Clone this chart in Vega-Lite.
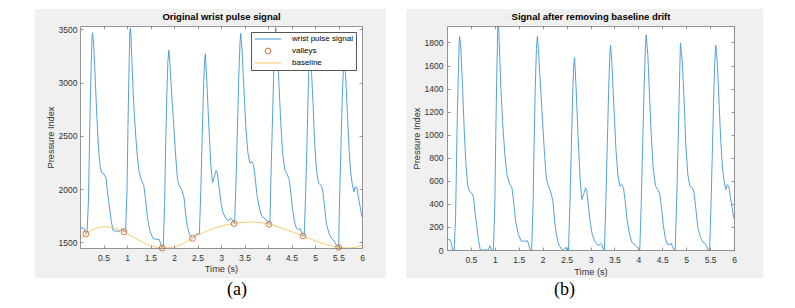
{
  "$schema": "https://vega.github.io/schema/vega-lite/v6.json",
  "padding": {"left": 35, "top": 8, "right": 0, "bottom": 0},
  "background": "white",
  "spacing": 19,
  "resolve": {"scale": {"color": "independent"}, "legend": {"color": "independent"}},
  "config": {
    "view": {"stroke": null},
    "font": "Liberation Sans",
    "axis": {
      "grid": false, "domainColor": "#7a7a7a", "domainWidth": 0.8, "tickColor": "#7a7a7a", "tickWidth": 0.8, "tickSize": -3,
      "labelFont": "Liberation Sans", "labelFontSize": 8.5, "labelColor": "#303030",
      "titleFont": "Liberation Sans", "titleFontSize": 9.2, "titleFontWeight": "normal", "titleColor": "#303030",
      "labelFlush": false, "labelOverlap": false
    }
  },
  "datasets": {
    "sig": [
      {"t":0,"v":1632},{"t":0.05,"v":1636},{"t":0.09,"v":1628},{"t":0.115,"v":1590},{"t":0.127,"v":1580},{"t":0.15,"v":1590},
      {"t":0.18,"v":1892},{"t":0.2,"v":2398},{"t":0.215,"v":2753},{"t":0.235,"v":3110},{"t":0.255,"v":3416},{"t":0.265,"v":3468},
      {"t":0.28,"v":3409},{"t":0.29,"v":3363},{"t":0.326,"v":3022},{"t":0.361,"v":2654},{"t":0.396,"v":2372},{"t":0.43,"v":2204},
      {"t":0.466,"v":2151},{"t":0.515,"v":2140},{"t":0.556,"v":2095},{"t":0.59,"v":1950},{"t":0.626,"v":1833},{"t":0.66,"v":1716},
      {"t":0.7,"v":1615},{"t":0.75,"v":1605},{"t":0.85,"v":1605},{"t":0.9,"v":1630},{"t":0.936,"v":1598},{"t":0.97,"v":1602},
      {"t":1.0,"v":1980},{"t":1.02,"v":2575},{"t":1.04,"v":3070},{"t":1.06,"v":3466},{"t":1.07,"v":3508},{"t":1.085,"v":3440},
      {"t":1.127,"v":2948},{"t":1.162,"v":2653},{"t":1.21,"v":2355},{"t":1.253,"v":2172},{"t":1.3,"v":2091},{"t":1.357,"v":2035},
      {"t":1.392,"v":1913},{"t":1.434,"v":1732},{"t":1.49,"v":1605},{"t":1.546,"v":1540},{"t":1.615,"v":1528},{"t":1.684,"v":1527},
      {"t":1.713,"v":1495},{"t":1.74,"v":1452},{"t":1.749,"v":1447},{"t":1.77,"v":1452},{"t":1.8,"v":1847},{"t":1.82,"v":2347},
      {"t":1.845,"v":2847},{"t":1.87,"v":3197},{"t":1.89,"v":3303},{"t":1.91,"v":3200},{"t":1.933,"v":3021},{"t":1.97,"v":2765},
      {"t":2.04,"v":2283},{"t":2.075,"v":2090},{"t":2.11,"v":2039},{"t":2.165,"v":1993},{"t":2.214,"v":1917},{"t":2.25,"v":1752},
      {"t":2.284,"v":1647},{"t":2.33,"v":1573},{"t":2.394,"v":1538},{"t":2.42,"v":1548},{"t":2.49,"v":1585},{"t":2.51,"v":1568},
      {"t":2.54,"v":1578},{"t":2.57,"v":1979},{"t":2.6,"v":2485},{"t":2.63,"v":2991},{"t":2.655,"v":3236},{"t":2.667,"v":3269},
      {"t":2.7,"v":3003},{"t":2.736,"v":2638},{"t":2.785,"v":2216},{"t":2.82,"v":2063},{"t":2.855,"v":2111},{"t":2.896,"v":2174},
      {"t":2.924,"v":2149},{"t":2.959,"v":2011},{"t":3.0,"v":1874},{"t":3.035,"v":1791},{"t":3.084,"v":1738},{"t":3.154,"v":1701},
      {"t":3.21,"v":1727},{"t":3.245,"v":1710},{"t":3.279,"v":1676},{"t":3.29,"v":1680},{"t":3.32,"v":2078},{"t":3.35,"v":2580},
      {"t":3.38,"v":3081},{"t":3.405,"v":3383},{"t":3.42,"v":3461},{"t":3.446,"v":3313},{"t":3.488,"v":2942},{"t":3.53,"v":2571},
      {"t":3.572,"v":2342},{"t":3.614,"v":2243},{"t":3.655,"v":2257},{"t":3.69,"v":2229},{"t":3.725,"v":2114},{"t":3.767,"v":1940},
      {"t":3.816,"v":1823},{"t":3.865,"v":1748},{"t":3.955,"v":1713},{"t":4.0,"v":1690},{"t":4.022,"v":1670},{"t":4.04,"v":1675},
      {"t":4.06,"v":2065},{"t":4.09,"v":2561},{"t":4.12,"v":3057},{"t":4.15,"v":3433},{"t":4.164,"v":3517},{"t":4.2,"v":3331},
      {"t":4.234,"v":2983},{"t":4.27,"v":2634},{"t":4.31,"v":2341},{"t":4.36,"v":2175},{"t":4.41,"v":2138},{"t":4.45,"v":2089},
      {"t":4.485,"v":1969},{"t":4.52,"v":1821},{"t":4.56,"v":1699},{"t":4.602,"v":1635},{"t":4.65,"v":1621},{"t":4.686,"v":1627},
      {"t":4.72,"v":1588},{"t":4.745,"v":1560},{"t":4.77,"v":1562},{"t":4.8,"v":1950},{"t":4.83,"v":2445},{"t":4.86,"v":2990},
      {"t":4.88,"v":3330},{"t":4.92,"v":3157},{"t":4.958,"v":2806},{"t":4.993,"v":2427},{"t":5.035,"v":2163},{"t":5.076,"v":2057},
      {"t":5.125,"v":2035},{"t":5.16,"v":2001},{"t":5.2,"v":1852},{"t":5.243,"v":1674},{"t":5.3,"v":1582},{"t":5.355,"v":1534},
      {"t":5.397,"v":1520},{"t":5.425,"v":1498},{"t":5.46,"v":1470},{"t":5.49,"v":1455},{"t":5.503,"v":1453},{"t":5.52,"v":1852},
      {"t":5.55,"v":2351},{"t":5.58,"v":2850},{"t":5.605,"v":3149},{"t":5.62,"v":3225},{"t":5.654,"v":3046},{"t":5.69,"v":2700},
      {"t":5.724,"v":2384},{"t":5.759,"v":2154},{"t":5.794,"v":2043},{"t":5.829,"v":1976},{"t":5.857,"v":2022},{"t":5.891,"v":2013},
      {"t":5.926,"v":1917},{"t":5.961,"v":1833},{"t":6.0,"v":1738}
    ],
    "base": [
      {"t":0,"v":1528},{"t":0.127,"v":1578},{"t":0.25,"v":1615},{"t":0.375,"v":1636},{"t":0.5,"v":1647},{"t":0.625,"v":1643},
      {"t":0.75,"v":1630},{"t":0.85,"v":1614},{"t":0.936,"v":1598},{"t":1.0,"v":1582},{"t":1.125,"v":1552},{"t":1.25,"v":1522},
      {"t":1.375,"v":1493},{"t":1.5,"v":1470},{"t":1.625,"v":1455},{"t":1.749,"v":1447},{"t":1.85,"v":1447},{"t":2.0,"v":1455},
      {"t":2.125,"v":1475},{"t":2.25,"v":1502},{"t":2.394,"v":1538},{"t":2.5,"v":1565},{"t":2.625,"v":1592},{"t":2.75,"v":1615},
      {"t":2.875,"v":1635},{"t":3.0,"v":1650},{"t":3.125,"v":1665},{"t":3.279,"v":1676},{"t":3.375,"v":1683},{"t":3.5,"v":1689},
      {"t":3.6,"v":1691},{"t":3.7,"v":1691},{"t":3.85,"v":1685},{"t":4.022,"v":1670},{"t":4.125,"v":1658},{"t":4.25,"v":1640},
      {"t":4.375,"v":1621},{"t":4.5,"v":1600},{"t":4.625,"v":1580},{"t":4.745,"v":1560},{"t":4.875,"v":1537},{"t":5.0,"v":1515},
      {"t":5.125,"v":1495},{"t":5.25,"v":1478},{"t":5.375,"v":1464},{"t":5.503,"v":1453},{"t":5.625,"v":1449},{"t":5.75,"v":1448},
      {"t":5.875,"v":1455},{"t":6.0,"v":1468}
    ],
    "valleys": [
      {"t":0.124,"v":1580},{"t":0.936,"v":1598},{"t":1.749,"v":1447},{"t":2.394,"v":1538},
      {"t":3.279,"v":1676},{"t":4.022,"v":1670},{"t":4.745,"v":1560},{"t":5.503,"v":1453}
    ],
    "right": [
      {"t":0,"v":95},{"t":0.07,"v":86},{"t":0.1,"v":37},{"t":0.125,"v":0},{"t":0.15,"v":0},{"t":0.18,"v":300},{"t":0.2,"v":800},
      {"t":0.215,"v":1150},{"t":0.235,"v":1500},{"t":0.255,"v":1800},{"t":0.265,"v":1851},{"t":0.28,"v":1790},{"t":0.29,"v":1743},
      {"t":0.326,"v":1398},{"t":0.361,"v":1026},{"t":0.396,"v":739},{"t":0.43,"v":567},{"t":0.466,"v":510},{"t":0.515,"v":496},
      {"t":0.556,"v":453},{"t":0.59,"v":310},{"t":0.626,"v":195},{"t":0.66,"v":80},{"t":0.696,"v":0},{"t":0.86,"v":0},{"t":0.9,"v":37},
      {"t":0.93,"v":0},{"t":0.97,"v":0},{"t":1.0,"v":400},{"t":1.02,"v":1000},{"t":1.04,"v":1500},{"t":1.06,"v":1900},{"t":1.07,"v":1945},
      {"t":1.085,"v":1880},{"t":1.127,"v":1398},{"t":1.162,"v":1112},{"t":1.21,"v":825},{"t":1.253,"v":653},{"t":1.3,"v":582},
      {"t":1.357,"v":539},{"t":1.392,"v":424},{"t":1.434,"v":252},{"t":1.49,"v":138},{"t":1.546,"v":80},{"t":1.615,"v":75},
      {"t":1.684,"v":80},{"t":1.713,"v":37},{"t":1.74,"v":0},{"t":1.77,"v":0},{"t":1.8,"v":400},{"t":1.82,"v":900},{"t":1.845,"v":1400},
      {"t":1.87,"v":1750},{"t":1.89,"v":1855},{"t":1.91,"v":1750},{"t":1.933,"v":1570},{"t":1.97,"v":1313},{"t":2.04,"v":825},
      {"t":2.075,"v":625},{"t":2.11,"v":567},{"t":2.165,"v":510},{"t":2.214,"v":424},{"t":2.25,"v":252},{"t":2.284,"v":138},
      {"t":2.33,"v":52},{"t":2.39,"v":9},{"t":2.42,"v":0},{"t":2.49,"v":23},{"t":2.51,"v":0},{"t":2.54,"v":0},{"t":2.57,"v":400},
      {"t":2.6,"v":900},{"t":2.63,"v":1400},{"t":2.655,"v":1640},{"t":2.667,"v":1671},{"t":2.7,"v":1398},{"t":2.736,"v":1026},
      {"t":2.785,"v":596},{"t":2.82,"v":438},{"t":2.855,"v":481},{"t":2.896,"v":539},{"t":2.924,"v":510},{"t":2.959,"v":367},
      {"t":3.0,"v":224},{"t":3.035,"v":138},{"t":3.084,"v":80},{"t":3.154,"v":37},{"t":3.21,"v":57},{"t":3.245,"v":37},{"t":3.27,"v":0},
      {"t":3.29,"v":0},{"t":3.32,"v":400},{"t":3.35,"v":900},{"t":3.38,"v":1400},{"t":3.405,"v":1700},{"t":3.42,"v":1777},
      {"t":3.446,"v":1628},{"t":3.488,"v":1255},{"t":3.53,"v":883},{"t":3.572,"v":653},{"t":3.614,"v":553},{"t":3.655,"v":567},
      {"t":3.69,"v":539},{"t":3.725,"v":424},{"t":3.767,"v":252},{"t":3.816,"v":138},{"t":3.865,"v":66},{"t":3.955,"v":37},
      {"t":4.0,"v":15},{"t":4.03,"v":0},{"t":4.06,"v":400},{"t":4.09,"v":900},{"t":4.12,"v":1400},{"t":4.15,"v":1780},{"t":4.164,"v":1866},
      {"t":4.2,"v":1685},{"t":4.234,"v":1341},{"t":4.27,"v":997},{"t":4.31,"v":711},{"t":4.36,"v":553},{"t":4.41,"v":524},
      {"t":4.45,"v":481},{"t":4.485,"v":367},{"t":4.52,"v":224},{"t":4.56,"v":109},{"t":4.602,"v":52},{"t":4.65,"v":46},
      {"t":4.686,"v":57},{"t":4.72,"v":23},{"t":4.75,"v":0},{"t":4.77,"v":0},{"t":4.8,"v":400},{"t":4.83,"v":900},{"t":4.86,"v":1450},
      {"t":4.88,"v":1794},{"t":4.92,"v":1628},{"t":4.958,"v":1284},{"t":4.993,"v":911},{"t":5.035,"v":653},{"t":5.076,"v":553},
      {"t":5.125,"v":539},{"t":5.16,"v":510},{"t":5.2,"v":367},{"t":5.243,"v":195},{"t":5.3,"v":109},{"t":5.355,"v":66},
      {"t":5.397,"v":57},{"t":5.425,"v":37},{"t":5.46,"v":0},{"t":5.49,"v":0},{"t":5.52,"v":400},{"t":5.55,"v":900},{"t":5.58,"v":1400},
      {"t":5.605,"v":1700},{"t":5.62,"v":1777},{"t":5.654,"v":1599},{"t":5.69,"v":1255},{"t":5.724,"v":940},{"t":5.759,"v":711},
      {"t":5.794,"v":596},{"t":5.829,"v":524},{"t":5.857,"v":567},{"t":5.891,"v":553},{"t":5.926,"v":453},{"t":5.961,"v":367},
      {"t":6.0,"v":270}
    ]
  },
  "hconcat": [
    {
      "width": 282,
      "height": 222,
      "title": {"text": "(a)", "orient": "bottom", "frame": "group", "anchor": "middle", "dx": 16, "offset": 3,
                "font": "Liberation Serif", "fontSize": 18, "fontWeight": "normal", "color": "#000000"},
      "layer": [
        {
          "data": {"values": [{}]},
          "mark": {"type": "rect", "color": "#f0f0f0", "clip": false},
          "encoding": {
            "x": {"datum": -0.957, "type": "quantitative",
                  "scale": {"domain": [0, 6], "nice": false, "zero": false},
                  "axis": {"orient": "bottom", "zindex": 1, "title": "Time (s)", "values": [0.5,1,1.5,2,2.5,3,3.5,4,4.5,5,5.5,6], "format": "~g", "labelPadding": 8, "titlePadding": 3}},
            "x2": {"datum": 6.511},
            "y": {"datum": 3691, "type": "quantitative",
                  "scale": {"domain": [1447, 3531], "nice": false, "zero": false},
                  "axis": {"orient": "left", "zindex": 1, "title": "Pressure Index", "values": [1500,2000,2500,3000,3500], "format": "d", "labelPadding": 6, "titlePadding": 3}},
            "y2": {"datum": 1165}
          }
        },
        {
          "data": {"values": [{}]},
          "mark": {"type": "rect", "color": "#ffffff"},
          "encoding": {
            "x": {"datum": 0, "type": "quantitative",
                  "axis": {"orient": "top", "zindex": 1, "labels": false, "title": "Original wrist pulse signal", "titleFontWeight": "bold", "titleFontSize": 9.5, "titleColor": "#000000", "titlePadding": 4, "values": [0.5,1,1.5,2,2.5,3,3.5,4,4.5,5,5.5,6]}},
            "x2": {"datum": 6},
            "y": {"datum": 3531, "type": "quantitative",
                  "axis": {"orient": "right", "zindex": 1, "labels": false, "title": null, "values": [1500,2000,2500,3000,3500]}},
            "y2": {"datum": 1447}
          }
        },
        {
          "data": {"name": "sig"},
          "mark": {"type": "line", "strokeWidth": 0.9, "clip": true},
          "encoding": {
            "x": {"field": "t", "type": "quantitative", "axis": null},
            "y": {"field": "v", "type": "quantitative", "axis": null},
            "color": {"datum": "wrist pulse signal", "type": "nominal",
                      "scale": {"domain": ["wrist pulse signal", "valleys", "baseline"], "range": ["#4196d8", "#e2693a", "#f3c562"]},
                      "legend": {"title": null, "orient": "top-right", "offset": 6, "fillColor": "#ffffff", "strokeColor": "#555555",
                                 "padding": 3, "rowPadding": 3, "labelOffset": 20, "symbolOffset": 10, "labelFont": "Liberation Sans", "labelFontSize": 8, "labelColor": "#000000",
                                 "symbolSize": 34, "symbolStrokeWidth": 1, "zindex": 2,
                                 "encode": {"symbols": {"update": {
                                   "shape": {"signal": "datum.value === 'valleys' ? 'circle' : 'M-4.5,0H4.5'"},
                                   "fill": {"value": "transparent"}}}}}}
          }
        },
        {
          "data": {"name": "base"},
          "mark": {"type": "line", "strokeWidth": 0.9, "interpolate": "monotone", "clip": true},
          "encoding": {
            "x": {"field": "t", "type": "quantitative", "axis": null},
            "y": {"field": "v", "type": "quantitative", "axis": null},
            "color": {"datum": "baseline", "type": "nominal"}
          }
        },
        {
          "data": {"name": "valleys"},
          "mark": {"type": "point", "filled": false, "size": 34, "strokeWidth": 0.9, "opacity": 1},
          "encoding": {
            "x": {"field": "t", "type": "quantitative", "axis": null},
            "y": {"field": "v", "type": "quantitative", "axis": null},
            "color": {"datum": "valleys", "type": "nominal"}
          }
        }
      ],
      "resolve": {"axis": {"x": "independent", "y": "independent"}}
    },
    {
      "width": 287,
      "height": 224,
      "title": {"text": "(b)", "orient": "bottom", "frame": "group", "anchor": "middle", "dx": -26, "offset": 3,
                "font": "Liberation Serif", "fontSize": 18, "fontWeight": "normal", "color": "#000000"},
      "layer": [
        {
          "data": {"values": [{}]},
          "mark": {"type": "rect", "color": "#f0f0f0", "clip": false},
          "encoding": {
            "x": {"datum": -0.851, "type": "quantitative",
                  "scale": {"domain": [0, 6], "nice": false, "zero": false},
                  "axis": {"orient": "bottom", "zindex": 1, "title": "Time (s)", "values": [0.5,1,1.5,2,2.5,3,3.5,4,4.5,5,5.5,6], "format": "~g", "labelPadding": 8, "titlePadding": 4}},
            "x2": {"datum": 6.613},
            "y": {"datum": 2090, "type": "quantitative",
                  "scale": {"domain": [0, 1943], "nice": false, "zero": false},
                  "axis": {"orient": "left", "zindex": 1, "title": "Pressure Index", "values": [0,200,400,600,800,1000,1200,1400,1600,1800], "format": "d", "labelPadding": 7, "titlePadding": 3}},
            "y2": {"datum": -243}
          }
        },
        {
          "data": {"values": [{}]},
          "mark": {"type": "rect", "color": "#ffffff"},
          "encoding": {
            "x": {"datum": 0, "type": "quantitative",
                  "axis": {"orient": "top", "zindex": 1, "labels": false, "title": "Signal after removing baseline drift", "titleFontWeight": "bold", "titleFontSize": 9.5, "titleColor": "#000000", "titlePadding": 4, "values": [0.5,1,1.5,2,2.5,3,3.5,4,4.5,5,5.5,6]}},
            "x2": {"datum": 6},
            "y": {"datum": 1943, "type": "quantitative",
                  "axis": {"orient": "right", "zindex": 1, "labels": false, "title": null, "values": [0,200,400,600,800,1000,1200,1400,1600,1800]}},
            "y2": {"datum": 0}
          }
        },
        {
          "data": {"name": "right"},
          "mark": {"type": "line", "strokeWidth": 0.9, "color": "#4196d8", "clip": true},
          "encoding": {
            "x": {"field": "t", "type": "quantitative", "axis": null},
            "y": {"field": "v", "type": "quantitative", "axis": null}
          }
        }
      ],
      "resolve": {"axis": {"x": "independent", "y": "independent"}}
    }
  ]
}
